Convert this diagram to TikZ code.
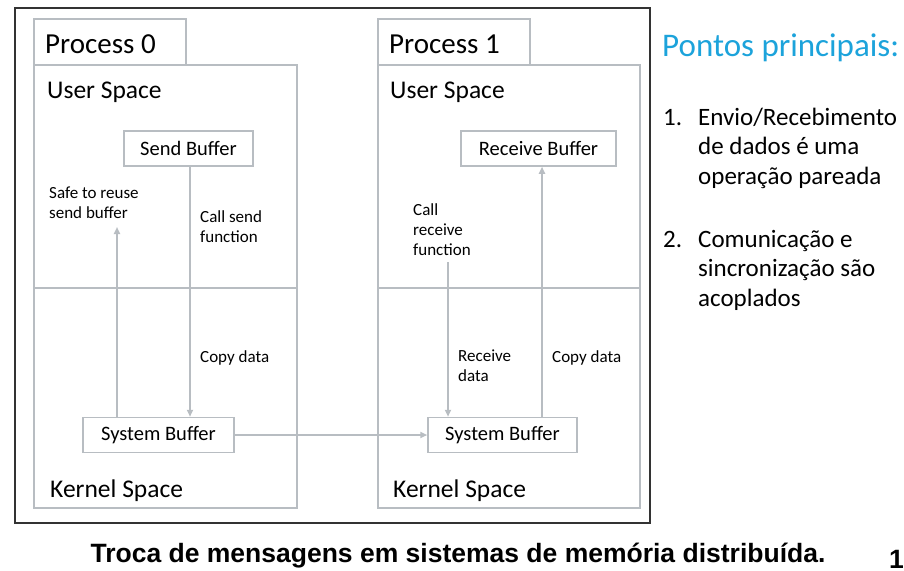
\documentclass[tikz,border=0pt]{standalone}
\usepackage{fontspec}
\setmainfont{Carlito}
\newfontfamily\capfont{Liberation Sans}
\usepackage{tikz}
\usetikzlibrary{positioning, arrows.meta}

\definecolor{framegray}{HTML}{B8BDC2}
\definecolor{pontosblue}{HTML}{1CA3DB}

\tikzset{
  region/.style={draw=framegray, line width=2.5pt},
  buffer/.style={draw=framegray, line width=1.5pt, fill=white, inner sep=0pt,
    minimum height=35pt, font=\fontsize{20.5}{24}\selectfont},
  flow/.style={draw=framegray, line width=2pt, -{Triangle[length=7pt,width=6pt]}},
  lbl/.style={font=\fontsize{17}{20}\selectfont, align=left, anchor=base west, inner sep=0pt},
  title/.style={font=\fontsize{29}{34}\selectfont, anchor=base west, inner sep=0pt},
  space/.style={font=\fontsize{25.5}{30}\selectfont, anchor=base west, inner sep=0pt},
  point/.style={font=\fontsize{25}{29.5}\selectfont, align=left, anchor=base west, inner sep=0pt}
}

\begin{document}
\begin{tikzpicture}[x=1pt, y=-1pt]
\fill[white] (0,0) rectangle (904,570);
\useasboundingbox (0,0) rectangle (904,570);

% outer frame
\draw[black!80, line width=1.3pt] (15,8) rectangle (650,523);

% process frames: tab, body, user/kernel divider
\foreach \x/\r/\t in {34/297/186, 378/640/530}
{
\draw[region] (\x,19) rectangle (\t,65);
\draw[region] (\x,65) rectangle (\r,508);
\draw[region] (\x,288) -- (\r,288);
}

\node[title] (proc0) at (45,53) {Process 0};
\node[title] (proc1) at (389,53) {Process 1};
\node[space] (user0) at (47,98) {User Space};
\node[space] (user1) at (390,98) {User Space};
\node[space] (kern0) at (50,497) {Kernel Space};
\node[space] (kern1) at (393,497) {Kernel Space};

% buffers
\node[buffer, minimum width=129pt] (sendbuf) at (188.5,148.5) {Send Buffer};
\node[buffer, minimum width=155pt] (recvbuf) at (538.5,148.5) {Receive Buffer};
\node[buffer, minimum width=151pt] (sysbuf0) at (158.5,435) {System Buffer};
\node[buffer, minimum width=149pt] (sysbuf1) at (502.5,435) {System Buffer};

% free arrow ends
\coordinate (safe) at (117,227);
\coordinate (callrecv) at (448,262);

% arrows
\draw[flow] ([xshift=1.5pt]sendbuf.south) -- ([xshift=31.5pt]sysbuf0.north);
\draw[flow] ([xshift=-41.5pt]sysbuf0.north) -- (safe);
\draw[flow] (sysbuf0.east) -- (sysbuf1.west);
\draw[flow] (callrecv) -- ([xshift=-54.5pt]sysbuf1.north);
\draw[flow] ([xshift=39.5pt]sysbuf1.north) -- ([xshift=3.5pt]recvbuf.south);

% arrow labels (placed at the baseline of the last line)
\node[lbl] (safelbl) at (49,218) {Safe to reuse\\send buffer};
\node[lbl] (calllbl) at (200,242) {Call send\\function};
\node[lbl] (copy0) at (200,362) {Copy data};
\node[lbl] (recvlbl) at (413,255) {Call\\receive\\function};
\node[lbl] (recvdata) at (458,381) {Receive\\data};
\node[lbl] (copy1) at (552,362) {Copy data};

% key points
\node[font=\fontsize{33}{38}\selectfont, text=pontosblue, anchor=base west, inner sep=0pt]
  (pontos) at (662,56) {Pontos principais:};
\node[point] (n1) at (663,125) {1.};
\node[point] (p1) at (698,184) {Envio/Recebimento\\de dados é uma\\operação pareada};
\node[point] (n2) at (663,247) {2.};
\node[point] (p2) at (698,306) {Comunicação e\\sincronização são\\acoplados};

% caption
\node[font=\capfont\bfseries\fontsize{26.5}{30}\selectfont, anchor=base, inner sep=0pt]
  (caption) at (458,562) {Troca de mensagens em sistemas de memória distribuída.};
\node[font=\capfont\bfseries\fontsize{26.5}{30}\selectfont, anchor=base west, inner sep=0pt]
  (pagenum) at (889,568) {14};
\end{tikzpicture}
\end{document}
